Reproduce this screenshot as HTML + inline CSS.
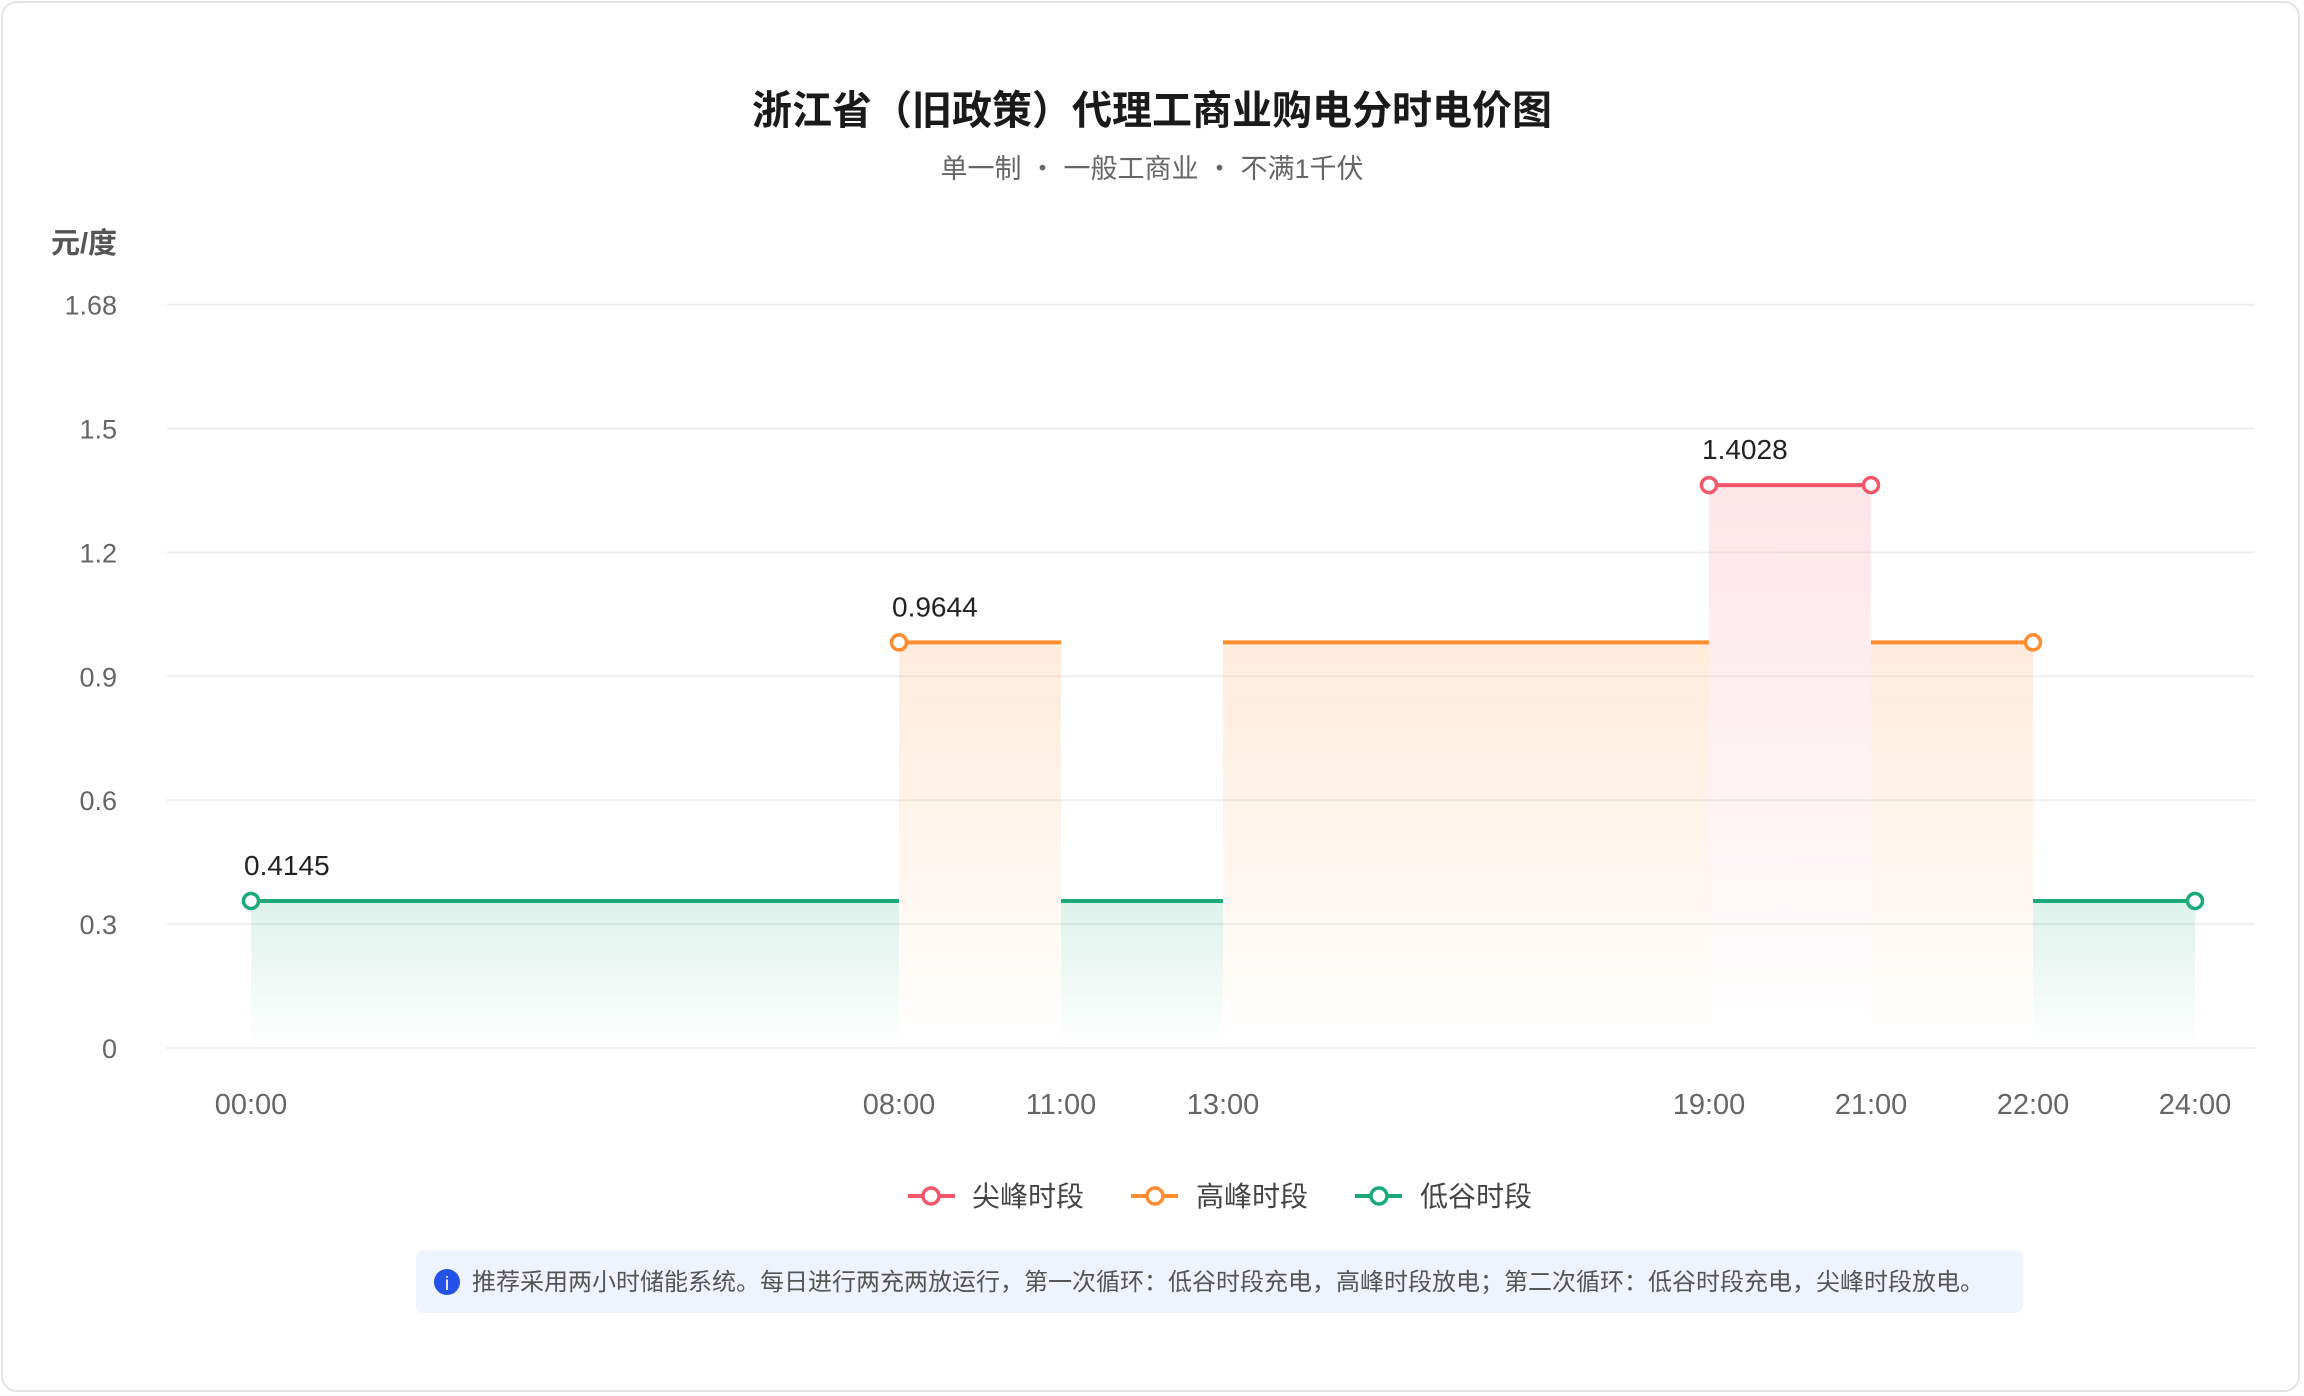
<!DOCTYPE html>
<html><head><meta charset="utf-8"><style>
html,body{margin:0;padding:0;background:#fff;}
body{width:2304px;height:1396px;overflow:hidden;font-family:"Liberation Sans","Noto Sans CJK SC",sans-serif;}
#card{position:absolute;left:1px;top:1px;width:2299px;height:1391px;border:2px solid #e3e3e8;border-radius:16px;box-sizing:border-box;}
</style></head><body>
<div id="card"></div>
<svg id="chart" width="2304" height="1396" style="position:absolute;left:0;top:0">
<defs>
<linearGradient id="gG" x1="0" y1="0" x2="0" y2="1"><stop offset="0" stop-color="#1aa97a" stop-opacity="0.15"/><stop offset="1" stop-color="#1aa97a" stop-opacity="0"/></linearGradient>
<linearGradient id="gO" x1="0" y1="0" x2="0" y2="1"><stop offset="0" stop-color="#ff8c2e" stop-opacity="0.17"/><stop offset="1" stop-color="#ff8c2e" stop-opacity="0"/></linearGradient>
<linearGradient id="gR" x1="0" y1="0" x2="0" y2="1"><stop offset="0" stop-color="#f5566a" stop-opacity="0.15"/><stop offset="1" stop-color="#f5566a" stop-opacity="0"/></linearGradient>
</defs>
<text x="1152" y="124" text-anchor="middle" font-size="40" font-weight="bold" fill="#1a1a1a">浙江省（旧政策）代理工商业购电分时电价图</text>
<text x="1152" y="178" text-anchor="middle" font-size="27" fill="#666">单一制 <tspan>・</tspan> 一般工商业 <tspan>・</tspan> 不满1千伏</text>
<text x="117" y="253" text-anchor="end" font-size="29" font-weight="bold" fill="#555">元/度</text>
<g id="grid"></g><g id="areas"></g><g id="lines"></g><g id="marks"></g><g id="labels"></g>
<g>
<g><line x1="908" y1="1196" x2="955" y2="1196" stroke="#f5566a" stroke-width="4"/><circle cx="931" cy="1196" r="8" fill="#fff" stroke="#f5566a" stroke-width="3.5"/><text x="972" y="1206" font-size="28" fill="#444">尖峰时段</text></g>
<g><line x1="1131" y1="1196" x2="1178" y2="1196" stroke="#ff8c2e" stroke-width="4"/><circle cx="1155" cy="1196" r="8" fill="#fff" stroke="#ff8c2e" stroke-width="3.5"/><text x="1196" y="1206" font-size="28" fill="#444">高峰时段</text></g>
<g><line x1="1355" y1="1196" x2="1402" y2="1196" stroke="#1aa97a" stroke-width="4"/><circle cx="1379" cy="1196" r="8" fill="#fff" stroke="#1aa97a" stroke-width="3.5"/><text x="1420" y="1206" font-size="28" fill="#444">低谷时段</text></g>
</g>
<g>
<rect x="416" y="1250" width="1607" height="63" rx="8" fill="#eef3fe"/>
<circle cx="447" cy="1282" r="13" fill="#2451e6"/>
<text x="447" y="1290" text-anchor="middle" font-size="19" fill="#fff">i</text>
<text x="472" y="1290" font-size="24" fill="#555">推荐采用两小时储能系统。每日进行两充两放运行，第一次循环：低谷时段充电，高峰时段放电；第二次循环：低谷时段充电，尖峰时段放电。</text>
</g>
</svg>
<script>
const yTicks=[0,0.3,0.6,0.9,1.2,1.5,1.68];
const yTickLabels=["0","0.3","0.6","0.9","1.2","1.5","1.68"];
const xTicks=[0,8,11,13,19,21,22,24];
const xTickLabels=["00:00","08:00","11:00","13:00","19:00","21:00","22:00","24:00"];
const segStart=[0,8,11,13,19,21,22];
const segEnd=[8,11,13,19,21,22,24];
const segType=["valley","high","valley","high","peak","high","valley"];
const segValue=[0.356,0.982,0.356,0.982,1.363,0.982,0.356];
const markerHour=[0,8,19,21,22,24];
const markerType=["valley","high","peak","peak","high","valley"];
const markerValue=[0.356,0.982,1.363,1.363,0.982,0.356];
const labelHour=[0,8,19];
const labelValue=[0.356,0.982,1.363];
const labelText=["0.4145","0.9644","1.4028"];
const NS="http://www.w3.org/2000/svg";
// x axis: piecewise, short gaps displayed as 2 units, long gaps proportional
const UNIT=81.0, X0=251;
function X(h){
  let pos=X0;
  for(let i=0;i<xTicks.length-1;i++){
    const a=xTicks[i],b=xTicks[i+1],gap=b-a,u=gap>=6?gap:2;
    if(h<=a)break;
    const f=Math.min(1,(h-a)/gap);
    pos+=f*u*UNIT;
  }
  return pos;
}
// y axis: evenly spaced ticks
const Y0=1048, STEP=123.9;
function Y(v){
  for(let i=0;i<yTicks.length-1;i++){
    if(v<=yTicks[i+1]||i===yTicks.length-2){
      return Y0-(i+(v-yTicks[i])/(yTicks[i+1]-yTicks[i]))*STEP;
    }
  }
}
const col={peak:"#f5566a",high:"#ff8c2e",valley:"#1aa97a"};
const grad={peak:"url(#gR)",high:"url(#gO)",valley:"url(#gG)"};
function mk(t,a,p){const e=document.createElementNS(NS,t);for(const k in a)e.setAttribute(k,a[k]);p.appendChild(e);return e;}
const grid=document.getElementById('grid');
yTicks.forEach((v,i)=>{
 const l=mk('line',{x1:166,x2:2255,y1:Y(v),y2:Y(v),stroke:'#efefef','stroke-width':2},grid);
 
 
 const t=mk('text',{x:117,y:Y(v)+10,'text-anchor':'end','font-size':27,fill:'#666'},grid);
 t.textContent=yTickLabels[i];
 
 
});
xTicks.forEach((h,i)=>{
 const t=mk('text',{x:X(h),y:1114,'text-anchor':'middle','font-size':29,fill:'#666'},grid);
 t.textContent=xTickLabels[i];
 
 
});
const areas=document.getElementById('areas'),lines=document.getElementById('lines');
segStart.forEach((s,i)=>{
 const r=mk('rect',{x:X(s),y:Y(segValue[i]),width:X(segEnd[i])-X(s),height:Y(0)-Y(segValue[i]),fill:grad[segType[i]]},areas);
 
 
 const l=mk('line',{x1:X(s),x2:X(segEnd[i]),y1:Y(segValue[i]),y2:Y(segValue[i]),stroke:col[segType[i]],'stroke-width':4},lines);
 
 
});
const marks=document.getElementById('marks');
markerHour.forEach((h,i)=>{
 const c=mk('circle',{cx:X(h),cy:Y(markerValue[i]),r:7.5,fill:'#fff',stroke:col[markerType[i]],'stroke-width':3.5},marks);
 
 
});
const labels=document.getElementById('labels');
labelHour.forEach((h,i)=>{
 const t=mk('text',{x:X(h)-7,y:Y(labelValue[i])-26,'font-size':28,fill:'#222'},labels);
 t.textContent=labelText[i];
 
 
});
</script>
</body></html>
